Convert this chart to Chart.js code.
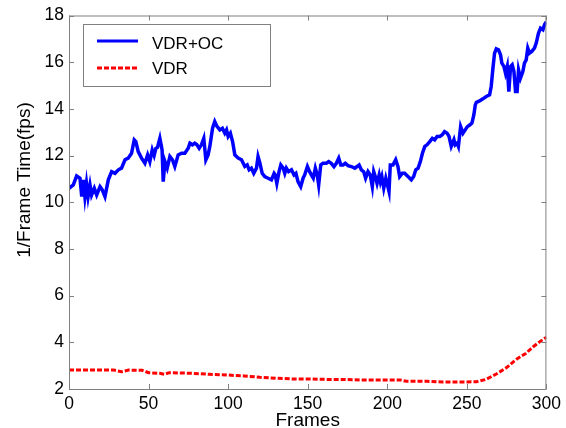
<!DOCTYPE html>
<html>
<head>
<meta charset="utf-8">
<title>1/Frame Time</title>
<script src="https://cdn.jsdelivr.net/npm/chart.js@4.4.1/dist/chart.umd.min.js"></script>
<style>
  body { margin: 0; background: #ffffff; }
  canvas { display: block; }
</style>
</head>
<body>
<canvas id="fpsChart" width="566" height="428"></canvas>
<script>
// VDR+OC series (frame, 1/frame time)
var ocFrames = [0, 2.7, 4.8, 6.9, 8, 9, 10, 11, 12, 13.2, 14.2, 15.9, 17.4, 19.5, 20.9, 22.6, 24.7, 26.8, 28.9, 31,
  33, 35.2, 37.2, 39.3, 41, 42, 43.5, 45.6, 47.7, 49.4, 50.8, 52.3, 53.5, 54.6, 55.6, 57.1, 58.5, 59.2, 60.3, 61.7,
  63.4, 65, 66.5, 68.6, 70.7, 72.8, 74.9, 76, 77.6, 79, 80.4, 81.8, 83.2, 84.7, 86, 87.4, 88.5, 90.2, 91.6, 93,
  94.8, 96.4, 97.9, 99, 100, 101.4, 102.8, 104.2, 106.3, 108.4, 110.5, 112, 113.2, 114.6, 116.1, 117.8, 118.8, 119.9, 121.4, 123,
  125.1, 127.2, 128.9, 129.6, 130.6, 132, 133.1, 134.6, 135.6, 136.6, 138, 139.8, 141.4, 142.6, 143.9, 145.6, 147.1, 148.1, 149.8, 151.2,
  152.3, 153.5, 154.8, 156, 156.9, 158.2, 159.6, 161.7, 163.2, 164.8, 166.5, 168, 169.5, 170.8, 172.2, 173.6, 175.3, 177.4, 179.6, 181,
  182.3, 183.7, 185.2, 186.4, 187.9, 189.3, 190.6, 191.5, 192.8, 193.6, 194.9, 195.7, 196.6, 197.8, 199.1, 199.9, 201.1, 201.9, 203.6, 205.3,
  206.7, 207.8, 209.4, 210.9, 213, 215.1, 216.6, 217.9, 219.4, 220.8, 222.1, 223.6, 225, 226.7, 228.3, 229.8, 231.3, 233, 234.6, 236,
  237.6, 238.8, 240.2, 241.9, 242.7, 243.9, 244.7, 246.1, 247.6, 249, 250.3, 251.8, 253.2, 254.4, 255.3, 256, 258, 260.1, 262.2, 264.3,
  265.3, 266.4, 267.4, 268.5, 269.9, 271.2, 272, 273.3, 274.3, 275.4, 276.4, 277.5, 278.5, 279.6, 280.6, 281.6, 282.5, 283.7, 285.2, 286.2,
  287.3, 288.3, 289.4, 290.8, 292.5, 293.6, 295, 296.3, 297.8, 298.8, 300];
var ocValues = [10.6, 10.74, 11.13, 11.03, 10.24, 10.96, 10.24, 10.81, 10.24, 10.74, 10.31, 10.6, 10.31, 10.67, 10.53, 10.24, 10.96, 11.31, 11.24, 11.39,
  11.46, 11.82, 11.89, 12.1, 12.67, 12.6, 12.17, 11.89, 11.67, 12.03, 11.74, 12.24, 12.0, 12.31, 12.35, 12.74, 12.24, 10.88, 11.74, 11.46,
  11.96, 11.82, 11.53, 12.03, 12.1, 12.1, 12.31, 12.53, 12.46, 12.53, 12.46, 12.31, 12.46, 12.74, 11.82, 12.03, 12.39, 13.17, 13.46, 13.25,
  13.1, 13.17, 12.96, 13.1, 12.82, 12.96, 12.6, 12.03, 11.89, 11.82, 11.53, 11.6, 11.39, 11.46, 11.24, 11.46, 11.96, 11.7, 11.24, 11.1,
  11.03, 10.96, 11.24, 11.17, 10.81, 11.31, 11.6, 11.46, 11.24, 11.46, 11.31, 11.39, 11.17, 11.24, 10.88, 10.67, 11.03, 11.17, 11.53, 11.31,
  11.17, 11.03, 11.46, 11.17, 10.74, 11.6, 11.67, 11.67, 11.74, 11.67, 11.53, 11.67, 11.89, 11.6, 11.6, 11.67, 11.57, 11.53, 11.46, 11.53,
  11.6, 11.39, 11.31, 11.03, 11.31, 11.17, 10.67, 11.31, 11.03, 10.81, 11.17, 10.88, 11.1, 10.6, 11.03, 10.81, 10.46, 11.6, 11.6, 11.82,
  11.53, 11.1, 11.24, 11.24, 11.1, 10.96, 11.1, 11.39, 11.46, 11.74, 12.1, 12.39, 12.46, 12.6, 12.74, 12.67, 12.82, 12.82, 12.89, 13.03,
  12.96, 12.82, 12.39, 12.68, 12.46, 12.53, 12.39, 13.24, 12.96, 13.1, 13.24, 13.31, 13.39, 13.74, 14.17, 14.28, 14.34, 14.43, 14.53, 14.6,
  14.96, 15.74, 16.38, 16.57, 16.53, 16.31, 15.96, 15.82, 15.53, 15.82, 14.74, 15.82, 15.89, 15.6, 14.74, 14.74, 15.67, 15.32, 15.6, 15.96,
  16.1, 16.6, 16.39, 16.46, 16.6, 16.82, 17.24, 17.46, 17.39, 17.6, 17.74];

// VDR series
var vdrFrames = [0, 15, 28, 33, 37.5, 46, 50, 57, 60, 63, 78, 88, 99, 110, 120, 130, 141, 151, 162, 172,
  183, 193, 208, 212, 225, 235, 245, 256, 262, 268.5, 275, 281, 287, 291.5, 295.7, 300];
var vdrValues = [2.81, 2.81, 2.81, 2.74, 2.81, 2.8, 2.7, 2.67, 2.63, 2.7, 2.67, 2.63, 2.6, 2.56, 2.5, 2.46, 2.43, 2.43, 2.41, 2.41,
  2.39, 2.39, 2.39, 2.33, 2.33, 2.3, 2.3, 2.31, 2.41, 2.64, 2.92, 3.27, 3.52, 3.8, 4.02, 4.22];

var xTicks = [0, 50, 100, 150, 200, 250, 300];
var yTicks = [2, 4, 6, 8, 10, 12, 14, 16, 18];
var seriesNames = ["VDR+OC", "VDR"];
var yTitle = "1/Frame Time(fps)";

var axisGrey = "#808080";
var fontFamily = "'Liberation Sans', Arial, sans-serif";

function toPoints(xs, ys)
{
  var pts = [];
  for (var i = 0; i < xs.length; i++)
  {
    pts.push({ x: xs[i], y: ys[i] });
  }
  return pts;
}

// matlab style box, inward ticks on all four sides, y label and the boxed legend
var matlabFrame = {
  id: "matlabFrame",
  afterDraw: function(chart)
  {
    var ctx = chart.ctx;
    var a = chart.chartArea;
    var xs = chart.scales.x;
    var ys = chart.scales.y;
    var tl = 5;

    ctx.save();
    ctx.strokeStyle = axisGrey;
    ctx.lineWidth = 1;
    ctx.strokeRect(a.left + 0.5, a.top + 0.5, a.right - a.left - 1, a.bottom - a.top);

    ctx.beginPath();
    xTicks.forEach(function(t) {
      var px = Math.round(xs.getPixelForValue(t)) + 0.5;
      ctx.moveTo(px, a.bottom); ctx.lineTo(px, a.bottom - tl);
      ctx.moveTo(px, a.top); ctx.lineTo(px, a.top + tl);
    });
    yTicks.forEach(function(t) {
      var py = Math.round(ys.getPixelForValue(t)) + 0.5;
      ctx.moveTo(a.left, py); ctx.lineTo(a.left + tl, py);
      ctx.moveTo(a.right, py); ctx.lineTo(a.right - tl, py);
    });
    ctx.stroke();

    // y label sits a bit above the axis middle, as in the matlab figure
    ctx.save();
    ctx.translate(25, 180);
    ctx.rotate(-Math.PI / 2);
    ctx.fillStyle = "#000000";
    ctx.font = "19px " + fontFamily;
    ctx.textAlign = "center";
    ctx.textBaseline = "middle";
    ctx.fillText(yTitle, 0, 0);
    ctx.restore();

    // legend box
    var lx = 83, ly = 24, lw = 187, lh = 62;
    ctx.fillStyle = "#ffffff";
    ctx.fillRect(lx, ly, lw, lh);
    ctx.strokeStyle = axisGrey;
    ctx.strokeRect(lx + 0.5, ly + 0.5, lw, lh);

    var rows = [41, 68];
    chart.data.datasets.forEach(function(ds, i) {
      ctx.beginPath();
      ctx.strokeStyle = ds.borderColor;
      ctx.lineWidth = 3;
      ctx.setLineDash(ds.borderDash || []);
      ctx.moveTo(97, rows[i]);
      ctx.lineTo(138, rows[i]);
      ctx.stroke();
      ctx.setLineDash([]);
      ctx.fillStyle = "#000000";
      ctx.font = "17px " + fontFamily;
      ctx.textBaseline = "middle";
      ctx.fillText(seriesNames[i], 152, rows[i] + 3 - i * 1.5);
    });
    ctx.restore();
  }
};

var chart = new Chart(document.getElementById("fpsChart"), {
  type: "line",
  data: {
    datasets: [
      {
        label: seriesNames[0],
        data: toPoints(ocFrames, ocValues),
        borderColor: "#0000ff",
        borderWidth: 3.5,
        pointRadius: 0,
        tension: 0,
        fill: false
      },
      {
        label: seriesNames[1],
        data: toPoints(vdrFrames, vdrValues),
        borderColor: "#ff0000",
        borderWidth: 3,
        borderDash: [5, 2],
        pointRadius: 0,
        tension: 0,
        fill: false
      }
    ]
  },
  options: {
    responsive: false,
    animation: false,
    layout: { padding: { top: 14, right: 19, left: 0, bottom: 0 } },
    plugins: {
      legend: { display: false },
      tooltip: { enabled: false }
    },
    scales: {
      x: {
        type: "linear",
        min: 0,
        max: 300,
        afterBuildTicks: function(scale) { scale.ticks = xTicks.map(function(v) { return { value: v }; }); },
        afterFit: function(scale) { scale.height = 39; },
        grid: { display: false, drawTicks: false },
        border: { display: false },
        ticks: { color: "#000000", padding: 5, maxRotation: 0, font: { family: fontFamily, size: 17.5 } },
        title: {
          display: true,
          text: "Frames",
          color: "#000000",
          padding: { top: 0, bottom: -2 },
          font: { family: fontFamily, size: 19, lineHeight: 1 }
        }
      },
      y: {
        min: 2,
        max: 18,
        afterBuildTicks: function(scale) { scale.ticks = yTicks.map(function(v) { return { value: v }; }); },
        afterFit: function(scale) { scale.width = 69; },
        grid: { display: false, drawTicks: false },
        border: { display: false },
        ticks: { color: "#000000", padding: 5, font: { family: fontFamily, size: 17.5 } },
        title: { display: false }
      }
    }
  },
  plugins: [matlabFrame]
});
</script>
</body>
</html>
